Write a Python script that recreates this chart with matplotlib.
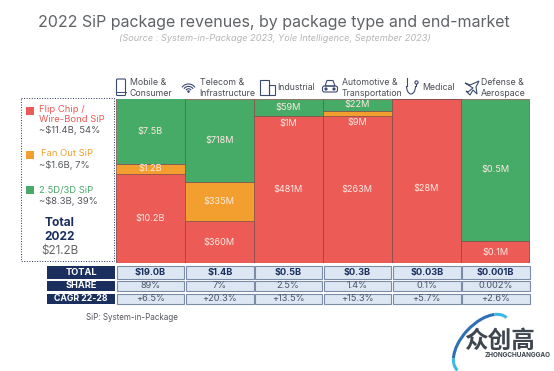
"""2022 SiP package revenues, by package type and end-market."""

import matplotlib
matplotlib.use("Agg")
import matplotlib.pyplot as plt
import numpy as np
from matplotlib.patches import Arc, Circle, FancyBboxPatch, Polygon, Rectangle

W, H = 554, 371
FONT = "Inter"

MARKETS = ["Mobile &\nConsumer", "Telecom &\nInfrastructure", "Industrial",
           "Automotive &\nTransportation", "Medical", "Defense &\nAerospace"]

# revenue per segment; the units differ per market, each column is its own 100 %
FLIP_CHIP = [10.2, 360, 481, 263, 28, 0.08]
FAN_OUT = [1.2, 335, 0, 9, 0, 0]
SIP_25D = [7.5, 718, 59, 22, 0, 0.52]

FLIP_LABELS = ["$10.2B", "$360M", "$481M", "$263M", "$28M", "$0.1M"]
FAN_LABELS = ["$1.2B", "$335M", "", "", "", ""]
SIP_LABELS = ["$7.5B", "$718M", "$59M", "$22M", "", "$0.5M"]

ROW_NAMES = ["TOTAL", "SHARE", "CAGR 22-28"]
TOTALS = ["$19.0B", "$1.4B", "$0.5B", "$0.3B", "$0.03B", "$0.001B"]
SHARES = ["89%", "7%", "2.5%", "1.4%", "0.1%", "0.002%"]
CAGRS = ["+6.5%", "+20.3%", "+13.5%", "+15.3%", "+5.7%", "+2.6%"]

RED = "#EC5B55"
ORANGE = "#F29F2F"
GREEN = "#47AB68"
NAVY = "#1B2F5E"
GREY = "#55585E"
EDGE = "#8A4B4B"

fig = plt.figure(figsize=(W / 100, H / 100), dpi=100)

# overlay in pixel units for everything around the chart
pg = fig.add_axes([0, 0, 1, 1])
pg.set_xlim(0, W)
pg.set_ylim(H, 0)
pg.axis("off")


def txt(x, y, s, size=5.6, color=GREY, ha="left", **kw):
    pg.text(x, y, s, fontsize=size, color=color, ha=ha, va="center",
            family=kw.pop("family", FONT), **kw)


# stacked columns
ax = fig.add_axes([116 / W, 1 - 263 / H, (529.5 - 116) / W, (263 - 98.5) / H])
ax.set_zorder(2)
x = np.arange(len(MARKETS))
flip = np.array(FLIP_CHIP, dtype=float)
fan = np.array(FAN_OUT, dtype=float)
sip = np.array(SIP_25D, dtype=float)
tot = flip + fan + sip
flip_p, fan_p, sip_p = 100 * flip / tot, 100 * fan / tot, 100 * sip / tot
ax.bar(x, flip_p, width=1, color=RED, edgecolor=EDGE, lw=0.6)
ax.bar(x, fan_p, width=1, bottom=flip_p, color=ORANGE, edgecolor=EDGE, lw=0.5)
ax.bar(x, sip_p, width=1, bottom=flip_p + fan_p, color=GREEN, edgecolor=EDGE, lw=0.5)
ax.set_xlim(-0.5, 5.5)
ax.set_ylim(0, 100)
ax.axis("off")

bar_txt = dict(ha="center", va="center", color="#FBE9E2", fontsize=6.6, family=FONT)
for i in x:
    if FLIP_LABELS[i]:
        # Medical's label sits a bit lower than the middle of its bar
        y = 45 if i == 4 else flip_p[i] / 2
        ax.text(i, y, FLIP_LABELS[i], **bar_txt)
    if FAN_LABELS[i]:
        ax.text(i, flip_p[i] + fan_p[i] / 2, FAN_LABELS[i], **bar_txt)
    if SIP_LABELS[i]:
        ax.text(i, flip_p[i] + fan_p[i] + sip_p[i] / 2, SIP_LABELS[i], **bar_txt)
ax.text(2, 84.5, "$1M", **bar_txt)
ax.text(3, 85.5, "$9M", **bar_txt)

# titles
txt(274, 22, "2022 SiP package revenues, by package type and end-market",
    size=11.5, color="#5F6266", ha="center")
txt(275, 38.5, "(Source : System-in-Package 2023, Yole Intelligence, September 2023)",
    size=6.6, color="#B5B5B5", ha="center", style="italic")

# legend box
pg.add_patch(Rectangle((20.5, 97.5), 93, 163.5, fill=False, ec=NAVY, lw=0.7, ls=":"))
for y, c in [(111, RED), (154.5, ORANGE), (190, GREEN)]:
    pg.add_patch(Rectangle((26, y - 4), 8, 8, color=c, lw=0))
txt(39, 109.5, "Flip Chip /", color=RED, size=6.8)
txt(39, 120, "Wire-Bond SiP", color=RED, size=6.8)
txt(39, 130, "~$11.4B, 54%", size=6.8)
txt(41, 154, "Fan Out SiP", color=ORANGE, size=6.8)
txt(39, 165, "~$1.6B, 7%", size=6.8)
txt(39, 190, "2.5D/3D SiP", color=GREEN, size=6.8)
txt(39, 201, "~$8.3B, 39%", size=6.8)
txt(60, 223, "Total", color=NAVY, size=8.6, ha="center", weight="bold")
txt(60, 237, "2022", color=NAVY, size=8.6, ha="center", weight="bold")
txt(60, 251, "$21.2B", size=8.4, ha="center", color="#666666")

# column headers
for (hx, hy), name in zip([(130, 88), (199.5, 88), (277, 88), (342, 88), (422, 88), (481, 88)], MARKETS):
    txt(hx, hy, name, size=6.3, linespacing=1.2, color="#4A4D55")

# icons
ic = dict(fill=False, ec="#3A4A70", lw=0.8)
pg.add_patch(FancyBboxPatch((116.5, 79), 9, 16.5, boxstyle="round,pad=0,rounding_size=1", **ic))
pg.plot([116.5, 125.5], [91.5, 91.5], color="#3A4A70", lw=0.7)
for d in (20, 14, 8):
    pg.add_patch(Arc((188.5, 92), d * 0.8, d * 0.8, theta1=215, theta2=325, **ic))
pg.add_patch(Circle((188.5, 91.5), 0.6, color="#3A4A70"))
pg.add_patch(Polygon([(260, 95), (260, 80), (269, 80), (269, 95)], closed=True, **ic))
pg.add_patch(Polygon([(269, 95), (269, 85), (275, 85), (275, 95)], closed=True, **ic))
pg.add_patch(FancyBboxPatch((322.5, 86), 15, 6, boxstyle="round,pad=0,rounding_size=2", **ic))
pg.add_patch(Polygon([(325, 86), (327, 80.5), (333, 80.5), (335, 86)], closed=True, **ic))
for cx in (326, 334):
    pg.add_patch(Circle((cx, 89), 0.9, color="#3A4A70"))
pg.add_patch(Arc((411, 86), 9, 16, theta1=0, theta2=180, **ic))
pg.plot([406.5, 406.5], [78, 86], color="#3A4A70", lw=0.8)
pg.plot([415.5, 415.5], [86, 84], color="#3A4A70", lw=0.8)
pg.add_patch(Circle((416.5, 82.5), 1.6, **ic))
pg.add_patch(Polygon([(479, 81), (470, 85), (465, 83), (473, 88), (468, 92), (466, 91),
                      (470, 95), (473, 90), (477, 94), (476, 87)], closed=True, **ic))

# table below the columns
col_x = [116.5, 186, 254.5, 323.5, 393, 462]
col_w = [67.5, 67.5, 67, 67.5, 67.5, 67.5]
rows = [(266, 12.5, TOTALS), (281, 10, SHARES), (293.5, 10.5, CAGRS)]
for name, (ry, rh, vals) in zip(ROW_NAMES, rows):
    bold = name == "TOTAL"
    pg.add_patch(Rectangle((47, ry), 68, rh, color=NAVY, lw=0))
    txt(81, ry + rh / 2, name, size=6.6 if name != "CAGR 22-28" else 6.3, color="white", ha="center", weight="bold")
    for cx, cw, v in zip(col_x, col_w, vals):
        pg.add_patch(Rectangle((cx, ry), cw, rh, fc="#DCE7F3", ec="#7C8CA6", lw=0.8))
        txt(cx + cw / 2, ry + rh / 2, v, size=6.6, ha="center",
            color=NAVY if bold else "#4A5568", weight="bold" if bold else "normal")

txt(86, 318, "SiP: System-in-Package", size=5.8, color="#55585E")

# watermark
wm = dict(xy=(482, 344), width=72, height=40, angle=-47)
pg.add_patch(Arc(theta1=200, theta2=340, ec="#2E6FB5", lw=2.2, **wm))
pg.add_patch(Arc(theta1=340, theta2=360, ec="#3DB7E4", lw=2.2, **wm))
pg.add_patch(Arc(theta1=180, theta2=200, ec="#3DB7E4", lw=2.2, **wm))
txt(499, 341, "众创高", size=17, color="#3E4650", ha="center", weight="bold",
    family=["Noto Sans CJK SC", "DejaVu Sans"])
txt(518, 355, "ZHONGCHUANGGAO", size=4.6, color="#3E4650", ha="center", weight="bold")

fig.savefig("out.png", dpi=100)
